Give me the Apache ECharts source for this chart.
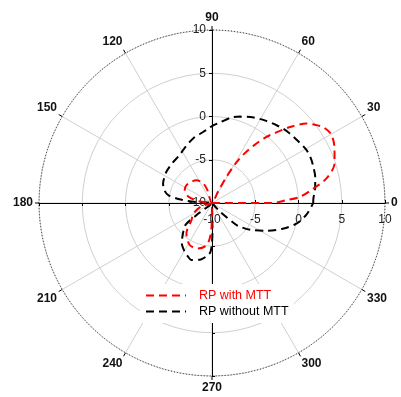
<!DOCTYPE html>
<html><head><meta charset="utf-8">
<script src="https://cdn.jsdelivr.net/npm/echarts@6/dist/echarts.min.js"></script>
<style>html,body{margin:0;padding:0;background:#fff}#c{width:401px;height:397px}</style>
</head><body><div id="c"></div>
<script>
const angleMin = 0, angleMax = 360, angleStep = 30;
const radiusMin = -10, radiusMax = 10, radiusStep = 5;
const seriesNames = ['RP with MTT', 'RP without MTT'];

const redAngles = [358, 0, 2, 4, 8, 12, 18, 25, 30, 34, 37, 40, 44, 48, 51, 54, 57, 59, 61, 62, 63,
  105, 110, 115, 125, 134, 145, 154, 165, 172, 177,
  190, 197, 210, 220, 230, 242, 253, 262, 266, 269, 272, 357];
const redValues = [-10, -3, -1.5, 0.2, 1.8, 3.5, 4.9, 5.6, 5.9, 5.6, 5.0, 4.3, 2.7, 0.9, -0.3, -1.8, -3.3, -4.6, -6.5, -8.5, -10,
  -10, -8.3, -7.4, -6.8, -6.6, -6.4, -6.5, -7.2, -8.5, -10,
  -10, -8.7, -7.5, -6.9, -5.4, -4.5, -4.5, -5.0, -5.8, -7.3, -10, -10];

const blackAngles = [0, 3, 7, 14, 20, 25, 30, 36, 42, 46, 50, 57, 64, 72, 76, 84, 90, 94, 100, 106, 115, 124, 135, 145, 152, 158, 165, 170, 174, 177, 180,
  216, 218, 219.5, 225, 233, 240, 246, 250, 258, 264, 268, 270, 271, 272,
  310, 313, 318, 320, 325, 333, 340, 346, 353, 360];
const blackValues = [1.7, 1.75, 2.0, 2.3, 2.45, 2.55, 2.5, 2.25, 2.05, 1.9, 1.7, 1.35, 1.0, 0.5, 0.25, -0.6, -1.1, -1.5, -1.9, -2.2, -2.8, -3.3, -3.5, -3.6, -3.75, -3.9, -4.3, -4.9, -6.5, -8.2, -10,
  -10, -7.7, -6.0, -5.3, -4.2, -3.6, -3.2, -3.0, -3.3, -3.8, -4.3, -5.4, -7.0, -10,
  -10, -8.6, -6.2, -5.7, -4.6, -2.9, -1.3, 0.0, 1.0, 1.7];

const toPts = (angs, vals) => angs.map((a, i) => [vals[i], a]);
const FONT = 'Liberation Sans, Arial, sans-serif';
const center = [212, 203], R = 173;
const startAngles = [0, 90, 180, 270];

const chart = echarts.init(document.getElementById('c'), null, {renderer: 'canvas'});
const hiddenAngle = (i, sa) => ({polarIndex: i, type: 'value', min: angleMin, max: angleMax, startAngle: sa, clockwise: false, show: false});
const plainRadius = (i) => ({polarIndex: i, type: 'value', min: radiusMin, max: radiusMax, interval: radiusStep,
  axisLine: {lineStyle: {color: '#000', width: 1}},
  axisTick: {show: true, length: 3, lineStyle: {color: '#000'}},
  axisLabel: {show: false}, splitLine: {show: false}});

chart.setOption({
  animation: false,
  backgroundColor: '#fff',
  polar: startAngles.map(() => ({center: center, radius: R})),
  angleAxis: [
    {polarIndex: 0, type: 'value', min: angleMin, max: angleMax, interval: angleStep, startAngle: 0, clockwise: false,
      axisLine: {lineStyle: {color: '#222', type: [1, 2], width: 1}},
      axisTick: {show: true, length: 4, lineStyle: {color: '#000'}},
      axisLabel: {margin: 6, fontWeight: 'bold', fontSize: 12, color: '#111', fontFamily: FONT,
        formatter: v => (v === angleMax ? '' : String(v))},
      splitLine: {show: true, lineStyle: {color: '#d0d0d0', width: 1}}},
    hiddenAngle(1, 90), hiddenAngle(2, 180), hiddenAngle(3, 270)
  ],
  radiusAxis: [
    {polarIndex: 0, type: 'value', min: radiusMin, max: radiusMax, interval: radiusStep,
      axisLine: {lineStyle: {color: '#000', width: 1}},
      axisTick: {show: true, inside: true, length: 3, lineStyle: {color: '#000'}},
      axisLabel: {margin: -17, verticalAlign: 'middle', align: 'center', fontSize: 12, color: '#222', fontFamily: FONT, showMinLabel: true, showMaxLabel: true},
      splitLine: {show: true, lineStyle: {color: '#d0d0d0', width: 1}}},
    {polarIndex: 1, type: 'value', min: radiusMin, max: radiusMax, interval: radiusStep,
      axisLine: {lineStyle: {color: '#000', width: 1}},
      axisTick: {show: true, length: 3, lineStyle: {color: '#000'}},
      axisLabel: {margin: 6, fontSize: 12, color: '#222', fontFamily: FONT, showMinLabel: true, showMaxLabel: true},
      splitLine: {show: false}},
    plainRadius(2), plainRadius(3)
  ],
  legend: {
    orient: 'vertical', left: 140, top: 284, padding: [5, 5, 5, 5],
    backgroundColor: '#fff', itemWidth: 40, itemHeight: 14, itemGap: 3,
    itemStyle: {opacity: 0, borderWidth: 0},
    textStyle: {fontSize: 12.5, fontFamily: FONT, padding: [0, 0, 0, 8]},
    data: [
      {name: seriesNames[0], textStyle: {color: '#ff0000'}},
      {name: seriesNames[1], textStyle: {color: '#000'}}
    ]
  },
  series: [
    {name: seriesNames[0], type: 'line', coordinateSystem: 'polar', polarIndex: 0, symbol: 'none',
      smooth: 0.3, data: toPts(redAngles, redValues), color: '#ff0000',
      lineStyle: {color: '#ff0000', width: 2, type: [8, 5]}, z: 5},
    {name: seriesNames[1], type: 'line', coordinateSystem: 'polar', polarIndex: 0, symbol: 'none',
      smooth: 0.3, data: toPts(blackAngles, blackValues), color: '#000',
      lineStyle: {color: '#000', width: 2, type: [8, 5]}, z: 4}
  ]
});
</script></body></html>
